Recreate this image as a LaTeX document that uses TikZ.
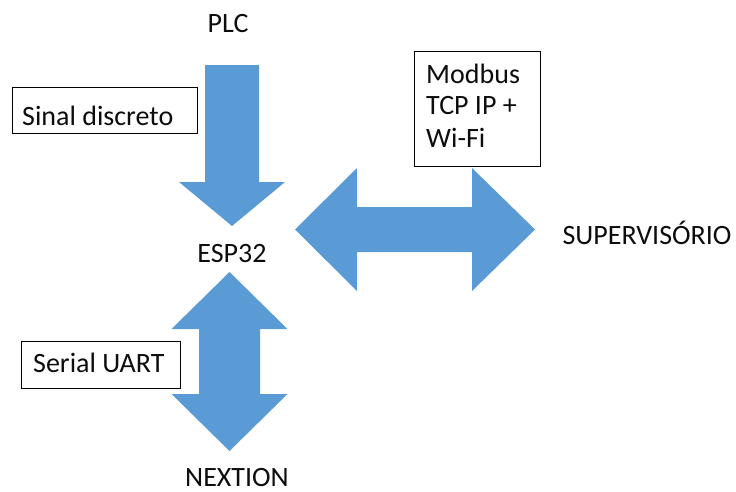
\documentclass[tikz,border=0pt]{standalone}
\usepackage{fontspec}
\setmainfont{Carlito}
\definecolor{arrowblue}{HTML}{5B9BD5}
\definecolor{txt}{HTML}{0D0D0D}
\begin{document}
\begin{tikzpicture}[x=1pt,y=-1pt,
  lbl/.style={inner sep=0pt,anchor=base,text=txt,font=\fontsize{28}{30}\selectfont},
  lbll/.style={lbl,anchor=base west},
  tagbox/.style={draw=black,line width=1pt},
  blockarrow/.style={fill=arrowblue,draw=none}]
\useasboundingbox (0,0) rectangle (736,491);
% block arrows
\fill[blockarrow] (205,65) -- (259,65) -- (259,182) -- (285,182) -- (232,226) -- (179,182) -- (205,182) -- cycle;
\fill[blockarrow] (295,229.5) -- (357,168) -- (357,207) -- (472,207) -- (472,168) -- (535,229.5) -- (472,291) -- (472,252) -- (357,252) -- (357,291) -- cycle;
\fill[blockarrow] (229.5,272) -- (287.5,329) -- (260,329) -- (260,394) -- (287.5,394) -- (229.5,451) -- (171.5,394) -- (199,394) -- (199,329) -- (171.5,329) -- cycle;
% labels
\node[lbl] (plc) at (228,32) {PLC};
\node[lbl] (esp) at (232,262) {ESP32};
\node[lbl] (nex) at (237,486) {NEXTION};
\node[lbl] (sup) at (647,244) {SUPERVISÓRIO};
% tag boxes
\draw[tagbox] (12,87) rectangle (197,133);
\node[lbll] (sinal) at (22,125) {Sinal discreto};
\draw[tagbox] (21,341) rectangle (180,388);
\node[lbll] (uart) at (33,372) {Serial UART};
\draw[tagbox] (414,51) rectangle (540,166);
\node[lbll] (mb1) at (426,83) {Modbus};
\node[lbll] (mb2) at (426,114) {TCP IP +};
\node[lbll] (mb3) at (426,147) {Wi-Fi};
\end{tikzpicture}
\end{document}
